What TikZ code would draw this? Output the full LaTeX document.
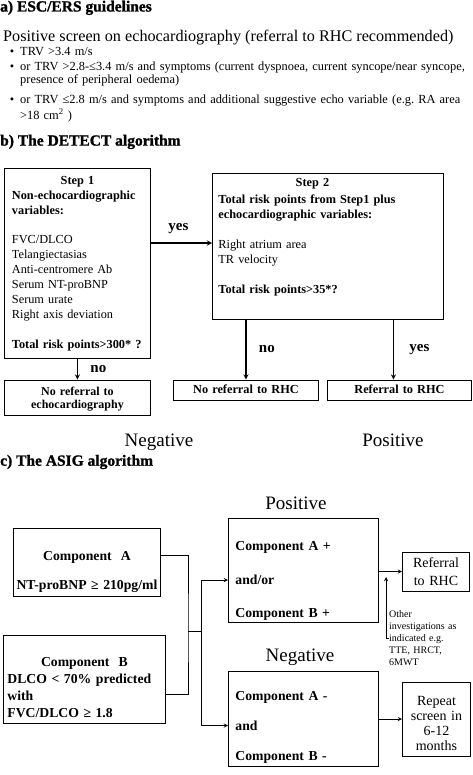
\documentclass[tikz,border=0pt]{standalone}
\usepackage{fontspec}
\setmainfont{Liberation Serif}
\newfontfamily\headfont[BoldFeatures={FakeBold=1.2}]{Liberation Serif}

\begin{document}
\begin{tikzpicture}[x=1pt, y=-1pt, >=stealth,
    box/.style={draw, line width=0.9pt, inner ysep=0pt, anchor=base west},
    head/.style={anchor=base west, inner sep=0pt, font=\headfont\bfseries\fontsize{15.5}{18}\selectfont},
    big/.style={anchor=base, inner sep=0pt, font=\fontsize{19}{22}\selectfont},
    lab/.style={font=\bfseries\fontsize{15}{18}\selectfont},
    item/.style={anchor=base west, inner sep=0pt, text width=452pt, align=left, font=\fontsize{12.4}{13}\selectfont},
    stepfont/.style={font=\fontsize{12.3}{15}\selectfont},
    compfont/.style={font=\fontsize{13.7}{17.3}\selectfont\bfseries},
    arr/.style={->, line width=1.3pt},
    link/.style={line width=0.9pt}]
    \useasboundingbox (0,0) rectangle (472,775);

    % a) guidelines
    \node[head] (ha) at (0,11.5) {a) ESC/ERS guidelines};
    \node[anchor=base west, inner sep=0pt, font=\fontsize{16.2}{19}\selectfont] (screen) at (3,41.7)
        {Positive screen on echocardiography (referral to RHC recommended)};
    \node[item] (i1) at (20,55.5) {\llap{\textbullet\hspace{6pt}}TRV >3.4 m/s};
    \node[item] (i2) at (20,70.7) {\llap{\textbullet\hspace{6pt}}or TRV >2.8-≤3.4 m/s and symptoms (current dyspnoea, current syncope/near syncope,\\
        presence of peripheral oedema)};
    \node[item] (i3) at (20,103.3) {\llap{\textbullet\hspace{6pt}}or TRV ≤2.8 m/s and symptoms and additional suggestive echo variable (e.g.\ RA area\\[3pt]
        >18 cm\textsuperscript{2} )};

    % b) DETECT
    \node[head] (hb) at (0,145.6) {b) The DETECT algorithm};
    \node[box, stepfont, inner xsep=7.5pt, text width=131pt, align=left, text height=17pt, text depth=173pt] (step1) at (4,185)
        {\makebox[\hsize]{\bfseries Step 1}\\
         \textbf{Non-echocardiographic}\\ \textbf{variables:}\\[14pt]
         FVC/DLCO\\ Telangiectasias\\ Anti-centromere Ab\\ Serum NT-proBNP\\ Serum urate\\ Right axis deviation\\[15pt]
         \textbf{Total risk points>300* ?}};
    \node[box, stepfont, inner xsep=6pt, text width=219pt, align=left, text height=13.7pt, text depth=132.3pt] (step2) at (212,186.7)
        {\makebox[188pt]{\bfseries Step 2}\\[2pt]
         \textbf{Total risk points from Step1 plus}\\ \textbf{echocardiographic variables:}\\[15pt]
         Right atrium area\\ TR velocity\\[15pt]
         \textbf{Total risk points>35*?}};
    \node[box, inner xsep=2pt, text width=142pt, align=center, text height=15.7pt, text depth=19.3pt,
          font=\fontsize{12}{12.6}\selectfont\bfseries] (noecho) at (4,395.7) {No referral to\\ echocardiography};
    \node[box, stepfont, inner xsep=2pt, text width=141pt, align=center, text height=13pt, text depth=7pt] (norhc) at (173,393)
        {\textbf{No referral to RHC}};
    \node[box, stepfont, inner xsep=2pt, text width=140pt, align=center, text height=13pt, text depth=7pt] (refrhc) at (327,393)
        {\textbf{Referral to RHC}};

    \draw[arr] ([yshift=20pt]step1.east) -- ([yshift=20pt]step1.east -| step2.west) node[pos=0.45, above=5pt, lab] {yes};
    \draw[arr] (step1.south) -- (noecho.north) node[midway, right=9pt, lab] {no};
    \draw[arr] (step2.south -| norhc.north) -- (norhc.north) node[midway, right=9pt, lab] {no};
    \draw[arr] ([xshift=-6pt]refrhc.north |- step2.south) -- ([xshift=-6pt]refrhc.north) node[midway, right=12pt, lab] {yes};

    \node[big] (negb) at (159,446.7) {Negative};
    \node[big] (posb) at (393,446.7) {Positive};

    % c) ASIG
    \node[head] (hc) at (0,465.7) {c) The ASIG algorithm};
    \node[big] (posc) at (296,509) {Positive};
    \node[big] (negc) at (300,661.7) {Negative};
    \node[box, compfont, inner xsep=1pt, text width=145pt, align=center, text height=32pt, text depth=36pt] (compA) at (13,560)
        {Component\ \ A\\[12pt] NT-proBNP ≥ 210pg/ml};
    \node[box, compfont, inner xsep=4pt, text width=154pt, align=left, text height=31pt, text depth=57pt] (compB) at (3,666)
        {\makebox[\hsize]{Component\ \ B}\\ DLCO < 70\% predicted\\ with\\ FVC/DLCO ≥ 1.8};
    \node[box, compfont, inner xsep=7pt, text width=136pt, align=left, text height=32.7pt, text depth=71.3pt] (posbox) at (228,550.7)
        {Component A +\\[16pt] and/or\\[16pt] Component B +};
    \node[box, compfont, inner xsep=7pt, text width=136pt, align=left, text height=29pt, text depth=66pt] (negbox) at (228,700)
        {Component A -\\[13pt] and\\[13pt] Component B -};
    \node[box, inner xsep=1pt, text width=65pt, align=center, text height=15.7pt, text depth=23.3pt,
          font=\fontsize{14}{18}\selectfont] (refbox) at (402,567.7) {Referral\\ to RHC};
    \node[box, inner xsep=1pt, text width=66pt, align=center, text height=23.7pt, text depth=50.3pt,
          font=\fontsize{14}{15}\selectfont] (repbox) at (402,705.7) {Repeat\\ screen in\\ 6-12\\ months};
    \node[anchor=base west, inner sep=0pt, text width=83pt, align=left, font=\fontsize{10}{12}\selectfont] (other) at (389,617)
        {Other\\ investigations as\\ indicated e.g.\\ TTE, HRCT,\\ 6MWT};

    \coordinate (jn) at (188,631);
    \coordinate (fork) at (201,631);
    \coordinate (hook) at (389,638);
    \coordinate (tip) at (386,577);
    \draw[link] ([yshift=7pt]compA.east) -| (jn) |- ([yshift=-15pt]compB.east);
    \draw[link] (jn) -- (fork);
    \draw[link, ->] (fork) |- ([yshift=-10pt]posbox.west);
    \draw[link, ->] (fork) |- ([yshift=-7pt]negbox.west);
    \draw[link, ->] (posbox.east |- refbox.west) -- (refbox.west);
    \draw[link, ->] (negbox.east |- repbox.west) -- (repbox.west);
    \draw[link, ->] (hook) -| (tip);
\end{tikzpicture}
\end{document}
